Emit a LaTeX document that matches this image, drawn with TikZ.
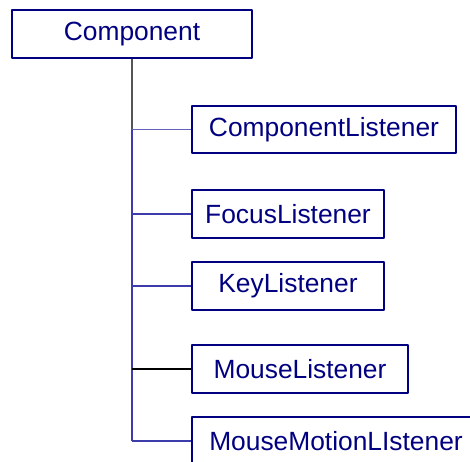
\documentclass[tikz,border=0pt]{standalone}
\usepackage{fontspec}
\setmainfont{Liberation Sans}
\definecolor{boxblue}{HTML}{000080}
\definecolor{linkblue}{HTML}{3C3CAA}
\definecolor{linkgray}{HTML}{555555}
\tikzset{
  classbox/.style={draw=boxblue, line width=0.9pt, text=boxblue, fill=white,
    minimum height=0.95cm, inner sep=0pt, font=\fontsize{15}{18}\selectfont},
  link/.style={draw=linkblue, line width=0.6pt}
}
\begin{document}
\begin{tikzpicture}[x=0.02cm, y=-0.02cm, line join=round]
  \useasboundingbox (0,0) rectangle (470,461);
  \clip (0,0) rectangle (470,461);
  % class boxes
  \node[classbox, minimum width=4.8cm] (comp) at (132,34) {Component};
  \node[classbox, minimum width=5.28cm] (cl) at (324,129.5) {ComponentListener};
  \node[classbox, minimum width=3.84cm] (fl) at (288,214) {FocusListener};
  \node[classbox, minimum width=3.84cm] (kl) at (288,286) {KeyListener};
  \node[classbox, minimum width=4.32cm] (ml) at (300,369) {MouseListener};
  \node[classbox, minimum width=5.76cm] (mml) at (336,441) {MouseMotionLIstener};
  % joints on the trunk
  \coordinate (j1) at (comp.south |- cl.west);
  \coordinate (j2) at (comp.south |- fl.west);
  \coordinate (j3) at (comp.south |- kl.west);
  \coordinate (j4) at (comp.south |- ml.west);
  \coordinate (j5) at (comp.south |- mml.west);
  % trunk
  \draw[link, draw=linkgray] (comp.south) -- (j1);
  \draw[link] (j1) -- (j5);
  % branches
  \draw[link, draw=linkblue!80] (j1) -- (cl.west);
  \draw[link] (j2) -- (fl.west);
  \draw[link] (j3) -- (kl.west);
  \draw[link, draw=black] (j4) -- (ml.west);
  \draw[link] (j5) -- (mml.west);
\end{tikzpicture}
\end{document}
